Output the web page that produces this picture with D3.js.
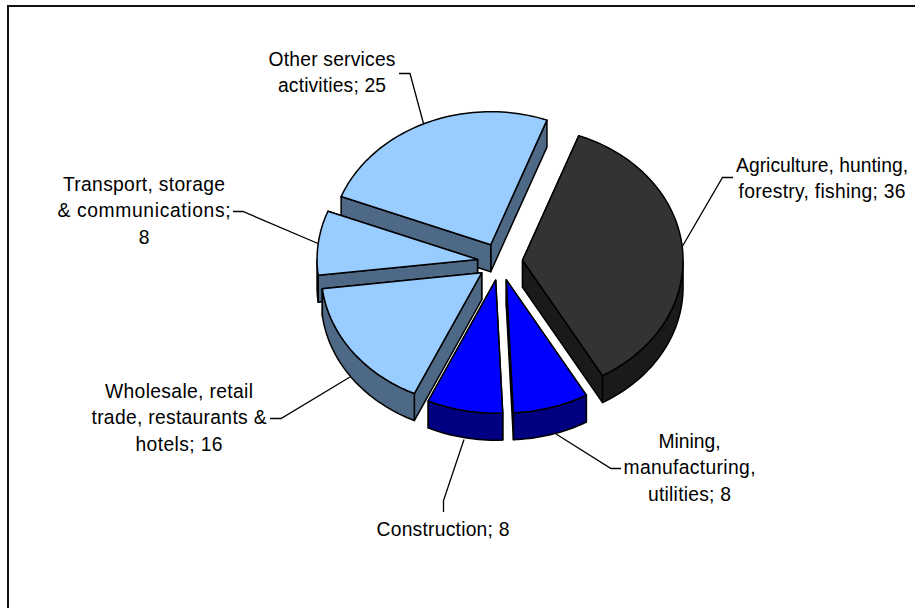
<!DOCTYPE html>
<html>
<head>
<meta charset="utf-8">
<script src="https://cdn.jsdelivr.net/npm/d3@7"></script>
<style>
html,body{margin:0;padding:0;background:#fff;overflow:hidden}
svg{display:block}
text{font-family:"Liberation Sans",Arial,sans-serif;font-size:19.3px;fill:#000;text-anchor:middle}
</style>
</head>
<body>
<svg id="c" width="915" height="608"></svg>
<script>
const categories = ["Agriculture, hunting, forestry, fishing","Mining, manufacturing, utilities","Construction","Wholesale, retail trade, restaurants & hotels","Transport, storage & communications","Other services activities"];
const values = [36, 7.6, 7.6, 16.2, 7.8, 24.8];
const topColors = ["#333333","#0000FF","#0000FF","#99CCFF","#99CCFF","#99CCFF"];
const wallColors = ["#1A1A1A","#000080","#000080","#4D6985","#4D6985","#4D6985"];
const labelLines = [
  ["Agriculture, hunting,","forestry, fishing;"],
  ["Mining,","manufacturing,","utilities;"],
  ["Construction;"],
  ["Wholesale, retail","trade, restaurants &","hotels;"],
  ["Transport, storage","& communications;",""],
  ["Other services","activities;"]
];
const labelCenters = [[822,172],[689.5,448],[443,536],[179,398],[144,191],[332,66]];
const lineWidths = [[172,167],[62,132,83],[133],[148,175,87],[162,173,11],[127,108]];
const leaders = [
  [[733,177.5],[722.5,177.5],[682,247]],
  [[621,468.5],[611,468.5],[556,434]],
  [[443.5,512],[443.5,500.5],[464,439.5]],
  [[270,418.5],[281,418.5],[350,377]],
  [[233,211.5],[243,211.5],[318,243.5]],
  [[399,73.5],[410,73.5],[423.5,123.5]]
];
const cx = 500, cy = 261.8, rx = 160.5, ry = 133, depth = 27, explode = 0.141;
const startDeg = 20.5;
const drawOrder = [5,4,3,0,2,1];

const svg = d3.select("#c");
const pie = d3.pie().sort(null).startAngle(startDeg*Math.PI/180).endAngle((startDeg+360)*Math.PI/180);
const arcs = pie(values);
const line = d3.line();

// frame
svg.append("path").attr("d", "M8,608V6H915").attr("fill","none").attr("stroke","#111").attr("stroke-width",2);

const pt = (a, r, ox, oy, dz=0) => [ox + r*rx*Math.sin(a), oy - r*ry*Math.cos(a) + dz];
const samples = (a0,a1) => {
  const n = Math.max(2, Math.ceil(Math.abs(a1-a0)/(Math.PI/120)));
  return d3.range(n+1).map(i => a0 + (a1-a0)*i/n);
};

drawOrder.forEach(i => {
  const d = arcs[i];
  const mid = (d.startAngle + d.endAngle)/2;
  const [ox, oy] = pt(mid, explode, cx, cy);
  const g = svg.append("g");
  const apex = [ox, oy];
  const style = sel => sel.attr("stroke","#000").attr("stroke-width",1.5).attr("stroke-linejoin","round");

  // radial walls, the one reaching furthest back first
  [d.startAngle, d.endAngle]
    .sort((a,b) => pt(a,1,ox,oy)[1] - pt(b,1,ox,oy)[1])
    .forEach(a => {
      const e = pt(a,1,ox,oy);
      g.append("path")
        .attr("d", line([apex, e, [e[0],e[1]+depth], [apex[0],apex[1]+depth]])+"Z")
        .attr("fill", wallColors[i]).call(style);
    });
  // outer wall (only the front half of the rim faces the viewer)
  const seg0 = Math.max(d.startAngle, Math.PI/2);
  const seg1 = Math.min(d.endAngle, 3*Math.PI/2);
  if (seg1 > seg0) {
    const as = samples(seg0, seg1);
    const upper = as.map(a => pt(a,1,ox,oy));
    const lower = as.slice().reverse().map(a => pt(a,1,ox,oy,depth));
    g.append("path").attr("d", line(upper.concat(lower))+"Z").attr("fill", wallColors[i]).call(style);
  }
  // top face
  const rim = samples(d.startAngle, d.endAngle).map(a => pt(a,1,ox,oy));
  g.append("path").attr("d", line([apex].concat(rim))+"Z").attr("fill", topColors[i]).call(style);
});

// leader lines
leaders.forEach(l => {
  svg.append("path").attr("d", line(l)).attr("fill","none").attr("stroke","#000").attr("stroke-width",1.3);
});

// labels: the rounded value closes each label
labelLines.forEach((lines,i) => {
  const t = svg.append("text").attr("aria-label", categories[i]);
  const v = Math.round(values[i]);
  lines.forEach((s,k) => {
    const last = k === lines.length-1;
    const str = last ? (s ? s+" "+v : String(v)) : s;
    t.append("tspan")
      .attr("x", labelCenters[i][0])
      .attr("y", labelCenters[i][1] + k*26.3)
      .attr("textLength", lineWidths[i][k])
      .attr("lengthAdjust","spacing")
      .text(str);
  });
});
</script>
</body>
</html>
